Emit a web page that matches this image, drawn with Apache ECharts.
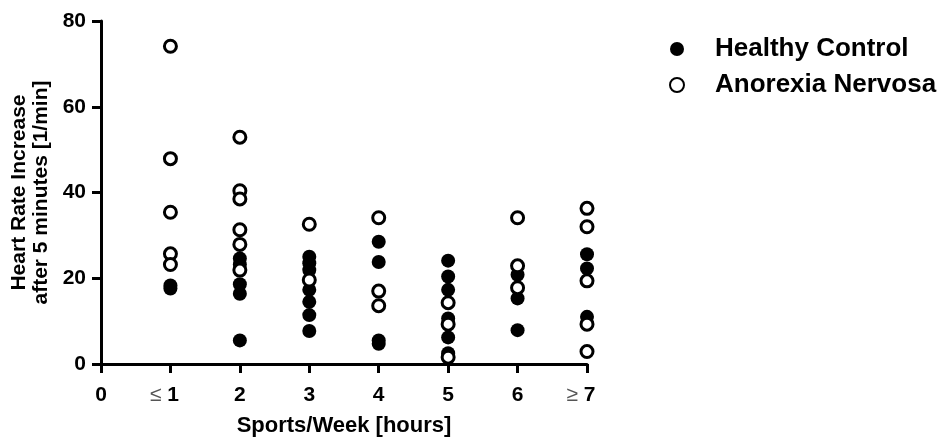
<!DOCTYPE html>
<html lang="en">
<head>
    <meta charset="UTF-8">
    <title>Heart rate increase vs sports per week</title>
    <style>
        html, body { margin: 0; padding: 0; background: #fff; }
    </style>
</head>
<body>
<div id="main" style="width: 943px;height:441px;"></div>
<script src="https://cdn.jsdelivr.net/npm/echarts@6/dist/echarts.min.js"></script>
<script>
    // tick labels of the x axis (hours 0..7)
    var xTickLabels = ['0', '≤ 1', '2', '3', '4', '5', '6', '≥ 7'];
    var yTicks = [0, 20, 40, 60, 80];

    // Healthy Control (filled)
    var hcHours = [1, 1, 2, 2, 2, 2, 2, 3, 3, 3, 3, 3, 3, 3, 4, 4, 4, 4, 5, 5, 5, 5, 5, 5, 6, 6, 6, 7, 7, 7];
    var hcRate = [18.3, 17.6, 24.6, 23.2, 18.6, 16.4, 5.5, 25.0, 23.5, 21.9, 17.3, 14.5, 11.4, 7.7,
        28.5, 23.8, 5.5, 4.7, 24.1, 20.4, 17.3, 10.6, 6.2, 2.5, 20.8, 15.3, 7.9, 25.6, 22.3, 11.0];

    // Anorexia Nervosa (open)
    var anHours = [1, 1, 1, 1, 1, 2, 2, 2, 2, 2, 2, 3, 3, 4, 4, 4, 5, 5, 5, 6, 6, 6, 7, 7, 7, 7, 7];
    var anRate = [74.1, 47.9, 35.4, 25.7, 23.2, 52.9, 40.4, 38.5, 31.3, 27.9, 21.9, 32.6, 19.6,
        34.1, 17.0, 13.6, 14.3, 9.3, 1.6, 34.1, 22.9, 17.8, 36.3, 32.0, 19.4, 9.3, 2.9];

    function pairs(xs, ys) {
        var out = [];
        for (var i = 0; i < xs.length; i++) {
            out.push([xs[i], ys[i]]);
        }
        return out;
    }

    var font = 'Liberation Sans, Arial, sans-serif';
    var app = echarts.init(document.getElementById('main'));
    var option = {
        backgroundColor: '#fff',
        animation: false,
        grid: {
            left: 101,
            right: 356,
            top: 21,
            bottom: 77,
            outerBoundsMode: 'none',
            containLabel: false
        },
        legend: {
            orient: 'vertical',
            left: 664,
            top: 31,
            itemWidth: 14,
            itemHeight: 14,
            itemGap: 10,
            data: ['Healthy Control', 'Anorexia Nervosa'],
            textStyle: {
                fontFamily: font,
                fontWeight: 'bold',
                fontSize: 26,
                color: '#000',
                padding: [0, 0, 0, 26]
            }
        },
        xAxis: {
            type: 'value',
            min: 0,
            max: 7,
            interval: 1,
            name: 'Sports/Week [hours]',
            nameLocation: 'middle',
            nameGap: 51,
            nameTextStyle: {
                fontFamily: font,
                fontWeight: 'bold',
                fontSize: 22,
                color: '#000'
            },
            splitLine: {show: false},
            axisLine: {show: true, onZero: false, lineStyle: {color: '#000', width: 3}},
            axisTick: {show: true, length: 9, lineStyle: {color: '#000', width: 3}},
            axisLabel: {
                margin: 21,
                fontFamily: font,
                fontWeight: 'bold',
                fontSize: 21,
                color: '#000',
                formatter: function (v) {
                    var t = xTickLabels[v];
                    if (t.indexOf('≤') === 0 || t.indexOf('≥') === 0) {
                        return '{sym|' + t.charAt(0) + ' }' + t.slice(2) + '{pad|}';
                    }
                    return t;
                },
                rich: {
                    sym: {fontFamily: font, fontWeight: 'normal', fontSize: 21, color: '#555'},
                    pad: {width: 12}
                }
            }
        },
        yAxis: {
            type: 'value',
            min: 0,
            max: 80,
            interval: 20,
            name: 'Heart Rate Increase\nafter 5 minutes [1/min]',
            nameLocation: 'middle',
            nameGap: 48,
            nameTextStyle: {
                fontFamily: font,
                fontWeight: 'bold',
                fontSize: 21,
                lineHeight: 22,
                color: '#000'
            },
            splitLine: {show: false},
            axisLine: {show: true, lineStyle: {color: '#000', width: 3}},
            axisTick: {show: true, length: 9, lineStyle: {color: '#000', width: 3}},
            axisLabel: {
                margin: 15,
                fontFamily: font,
                fontWeight: 'bold',
                fontSize: 21,
                color: '#000',
                formatter: function (v) {
                    return yTicks.indexOf(v) >= 0 ? String(v) : '';
                }
            }
        },
        series: [
            {
                name: 'Healthy Control',
                type: 'scatter',
                symbol: 'circle',
                symbolSize: 14,
                itemStyle: {color: '#000', opacity: 1},
                data: pairs(hcHours, hcRate)
            },
            {
                name: 'Anorexia Nervosa',
                type: 'scatter',
                symbol: 'circle',
                symbolSize: 12,
                itemStyle: {color: '#fff', borderColor: '#000', borderWidth: 3, opacity: 1},
                data: pairs(anHours, anRate)
            }
        ]
    };
    app.setOption(option);
</script>
</body>
</html>
